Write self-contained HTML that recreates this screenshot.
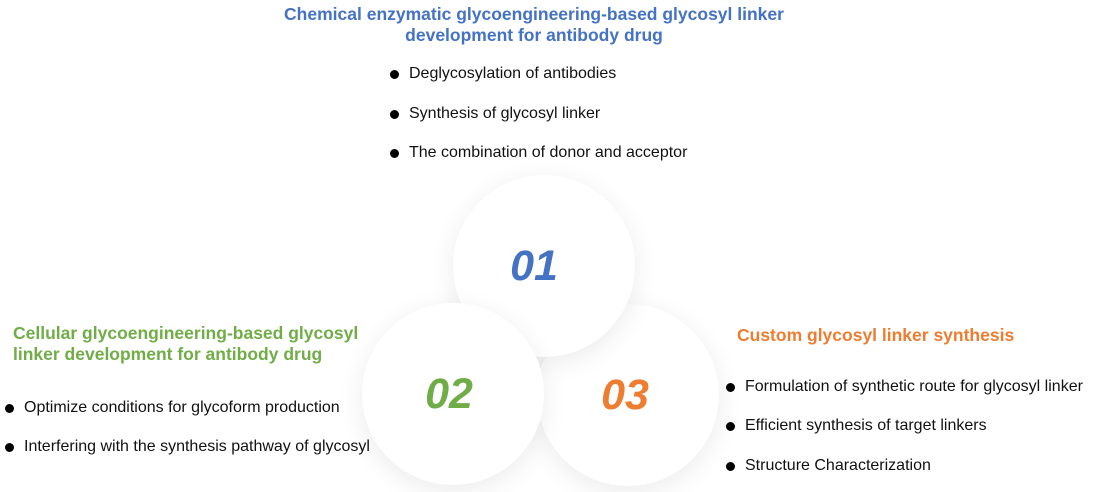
<!DOCTYPE html>
<html><head><style>
body{margin:0;width:1094px;height:492px;background:#fff;position:relative;overflow:hidden;font-family:"Liberation Sans",Arial,sans-serif}
.t{position:absolute;font-weight:bold;font-size:17.5px;line-height:21px}
.b{position:absolute;font-size:16px;color:#111;white-space:nowrap}
.b:before{content:"";position:absolute;left:-19px;top:5px;width:9px;height:9px;border-radius:50%;background:#000}
.c{position:absolute;width:182px;height:182px;border-radius:50%;background:#fff;box-shadow:0 6px 26px rgba(0,0,0,0.08);display:flex;align-items:center;justify-content:center;font-weight:bold;font-style:italic;font-size:43px}
</style></head><body>
<div class="t" style="left:234px;top:4px;width:600px;text-align:center;color:#4472c4">Chemical enzymatic glycoengineering-based glycosyl linker<br>development for antibody drug</div>
<div class="b" style="left:409px;top:65px">Deglycosylation of antibodies</div>
<div class="b" style="left:409px;top:105px">Synthesis of glycosyl linker</div>
<div class="b" style="left:409px;top:144px">The combination of donor and acceptor</div>

<div class="t" style="left:13px;top:323px;color:#70ad47">Cellular glycoengineering-based glycosyl<br>linker development for antibody drug</div>
<div class="b" style="left:24px;top:399px">Optimize conditions for glycoform production</div>
<div class="b" style="left:24px;top:438px">Interfering with the synthesis pathway of glycosyl</div>

<div class="t" style="left:737px;top:325px;color:#ed7d31">Custom glycosyl linker synthesis</div>
<div class="b" style="left:745px;top:378px">Formulation of synthetic route for glycosyl linker</div>
<div class="b" style="left:745px;top:417px">Efficient synthesis of target linkers</div>
<div class="b" style="left:745px;top:457px">Structure Characterization</div>

<div class="c" style="left:537px;top:304px;color:#ed7d31"><span style="margin-left:-6px">03</span></div>
<div class="c" style="left:453px;top:175px;color:#4472c4"><span style="margin-left:-20px">01</span></div>
<div class="c" style="left:362px;top:303px;color:#70ad47"><span style="margin-left:-8px">02</span></div>
</body></html>
